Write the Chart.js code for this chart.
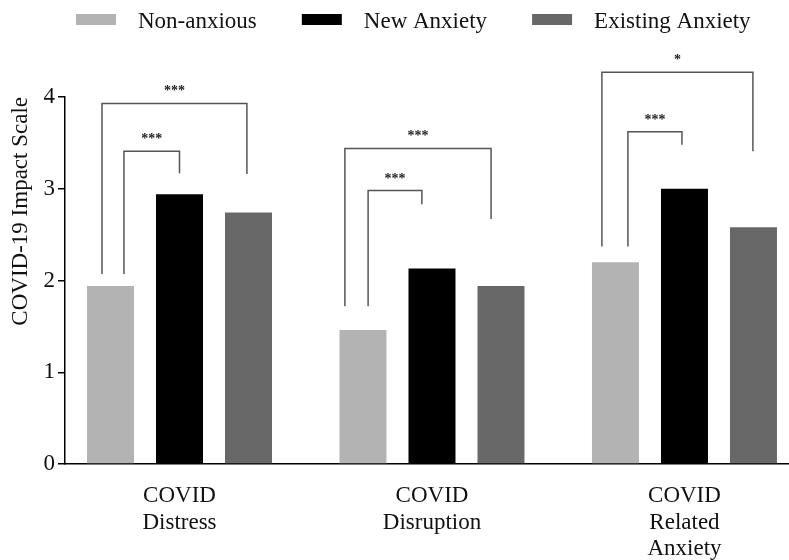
<!DOCTYPE html>
<html lang="en">
<head>
  <meta charset="UTF-8">
  <title>COVID-19 Impact Scale</title>
  <script src="https://cdn.jsdelivr.net/npm/chart.js"></script>
  <style>
    html, body { margin: 0; padding: 0; background: #ffffff; }
    #wrap { width: 789px; height: 560px; }
  </style>
</head>
<body>
  <div id="wrap"><canvas id="impact"></canvas></div>

<script>
  // categories (one per group of bars)
  const categories = [['COVID', 'Distress'], ['COVID', 'Disruption'], ['COVID', 'Related', 'Anxiety']];

  // series
  const seriesNames = ['Non-anxious', 'New Anxiety', 'Existing Anxiety'];
  const seriesColors = ['#b3b3b3', '#000000', '#686868'];
  const nonAnxious = [1.94, 1.46, 2.20];
  const newAnxiety = [2.94, 2.13, 3.00];
  const existingAnxiety = [2.74, 1.94, 2.58];

  const yTicks = [0, 1, 2, 3, 4];

  // significance brackets: group, left/right offset from group centre, heights in scale units
  const bracketGroup = [0, 0, 1, 1, 2, 2];
  const bracketFrom = [-0.220, -0.307, -0.253, -0.345, -0.224, -0.327];
  const bracketTo = [0.000, 0.267, -0.040, 0.234, -0.010, 0.271];
  const bracketTop = [3.41, 3.93, 2.98, 3.44, 3.62, 4.27];
  const bracketLeftEnd = [2.07, 2.07, 1.72, 1.72, 2.37, 2.37];
  const bracketRightEnd = [3.17, 3.16, 2.83, 2.67, 3.48, 3.41];
  const bracketStars = ['***', '***', '***', '***', '***', '*'];

  const serif = '"Liberation Serif", "Times New Roman", serif';
  Chart.defaults.font.family = serif;
  Chart.defaults.color = '#111111';

  const seriesValues = [nonAnxious, newAnxiety, existingAnxiety];

  const bracketPlugin = {
    id: 'sigBrackets',
    afterDatasetsDraw(chart) {
      const ctx = chart.ctx;
      const x = chart.scales.x;
      const y = chart.scales.y;
      ctx.save();
      ctx.strokeStyle = '#555555';
      ctx.lineWidth = 1.5;
      ctx.fillStyle = '#222222';
      ctx.font = 'bold 14px ' + serif;
      ctx.textAlign = 'center';
      ctx.textBaseline = 'alphabetic';
      bracketGroup.forEach((g, i) => {
        const x1 = x.getPixelForValue(g + bracketFrom[i]);
        const x2 = x.getPixelForValue(g + bracketTo[i]);
        const yt = y.getPixelForValue(bracketTop[i]);
        ctx.beginPath();
        ctx.moveTo(x1, y.getPixelForValue(bracketLeftEnd[i]));
        ctx.lineTo(x1, yt);
        ctx.lineTo(x2, yt);
        ctx.lineTo(x2, y.getPixelForValue(bracketRightEnd[i]));
        ctx.stroke();
        ctx.fillText(bracketStars[i], (x1 + x2) / 2, yt - 8);
      });
      ctx.restore();
    }
  };

  // legend drawn by hand so the gaps match the figure
  const keyPlugin = {
    id: 'seriesKey',
    afterDraw(chart) {
      const ctx = chart.ctx;
      ctx.save();
      ctx.font = '23px ' + serif;
      ctx.textBaseline = 'alphabetic';
      ctx.textAlign = 'left';
      let x = 76;
      chart.data.datasets.forEach(ds => {
        ctx.fillStyle = ds.backgroundColor;
        ctx.fillRect(x, 14, 40, 11);
        ctx.fillStyle = '#111111';
        ctx.fillText(ds.label, x + 62, 28);
        x += 62 + ctx.measureText(ds.label).width + 45;
      });
      ctx.restore();
    }
  };

  new Chart(document.getElementById('impact'), {
    type: 'bar',
    data: {
      datasets: seriesNames.map((name, s) => ({
        label: name,
        data: seriesValues[s].map((v, i) => ({ x: i, y: v })),
        backgroundColor: seriesColors[s],
        borderWidth: 0,
        categoryPercentage: 0.8198,
        barPercentage: 0.6812
      }))
    },
    options: {
      responsive: true,
      maintainAspectRatio: false,
      animation: false,
      layout: { padding: { top: 97, left: 4, right: 0, bottom: 0 } },
      plugins: {
        legend: { display: false },
        tooltip: { enabled: false }
      },
      scales: {
        x: {
          type: 'linear',
          offset: false,
          min: -0.4535,
          max: 2.414,
          afterBuildTicks: s => { s.ticks = categories.map((c, i) => ({ value: i })); },
          afterFit: s => { s.height = 96; },
          grid: { display: false, drawTicks: false },
          border: { display: true, color: '#000000', width: 1.5 },
          ticks: {
            autoSkip: false,
            maxRotation: 0,
            padding: 19,
            color: '#111111',
            font: { size: 23, lineHeight: 1.15 },
            callback: (v) => categories[v]
          }
        },
        y: {
          min: 0,
          max: 4,
          afterBuildTicks: s => { s.ticks = yTicks.map(v => ({ value: v })); },
          afterFit: s => { s.width = 61; },
          grid: { drawOnChartArea: false, tickLength: 7, color: '#000000', lineWidth: 1.5 },
          border: { display: true, color: '#000000', width: 1.5 },
          ticks: { padding: 3, color: '#111111', font: { size: 23 } },
          title: {
            display: true,
            text: 'COVID-19 Impact Scale',
            align: 'end',
            color: '#111111',
            font: { size: 23 },
            padding: { top: 3, bottom: 4 }
          }
        }
      }
    },
    plugins: [bracketPlugin, keyPlugin]
  });
</script>
</body>
</html>
